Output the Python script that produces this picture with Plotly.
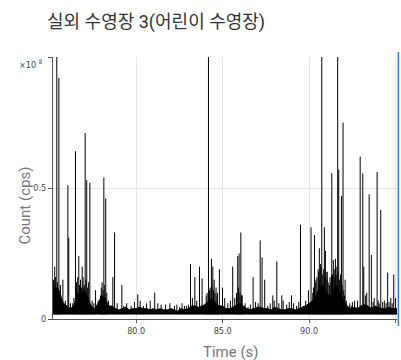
import plotly.graph_objects as go

# ---- data (Count in units of 1e8 cps, time in s) ----
title_text = "실외 수영장 3(어린이 수영장)"
x_title = "Time (s)"
y_title = "Count (cps)"
x_tick_vals = [80, 85, 90, 95]
x_tick_text = ["80.0", "85.0", "90.0", ""]
y_tick_vals = [0, 0.5, 1.0]
y_tick_text = ["0", "0.5", ""]

# upper envelope of the dense noise band, sampled every 0.2 s from 75.2 s
band_t0 = 75.2
band_dt = 0.2
band_hi = [0.11, 0.12, 0.09, 0.06, 0.05, 0.04, 0.05, 0.10, 0.09, 0.11,
           0.08, 0.05, 0.04, 0.06, 0.09, 0.08, 0.05, 0.05, 0.04, 0.035,
           0.04, 0.045, 0.035, 0.04, 0.04, 0.045, 0.04, 0.04, 0.035, 0.04,
           0.035, 0.04, 0.035, 0.035, 0.04, 0.035, 0.03, 0.04, 0.035, 0.04,
           0.05, 0.05, 0.045, 0.05, 0.055, 0.07, 0.08, 0.06, 0.05, 0.05,
           0.04, 0.04, 0.045, 0.055, 0.06, 0.05, 0.04, 0.035, 0.04, 0.045,
           0.045, 0.04, 0.04, 0.035, 0.045, 0.04, 0.035, 0.035, 0.04, 0.04,
           0.035, 0.04, 0.045, 0.05, 0.06, 0.07, 0.09, 0.12, 0.13, 0.10,
           0.09, 0.11, 0.13, 0.10, 0.07, 0.05, 0.04, 0.045, 0.04, 0.05,
           0.055, 0.05, 0.04, 0.05, 0.045, 0.04, 0.04, 0.045, 0.04, 0.04,
           0.04]
band_floor = 0.018

# individual spikes: time (s) and peak count (x1e8 cps)
spike_t = [75.29, 75.41, 75.53, 75.76, 76.05, 76.10, 76.33, 76.49, 76.68, 76.88,
           77.05, 77.14, 77.32, 77.65, 77.94, 78.13, 78.24, 78.65, 78.75,
           79.17, 79.28, 79.71, 80.09, 80.23, 80.42, 80.81, 81.07, 81.44, 82.21,
           82.50, 82.79, 83.02, 83.14,
           83.39, 83.66, 83.81, 83.99, 84.18, 84.24, 84.35, 84.43, 84.51, 84.62,
           84.81, 84.99, 85.12, 85.58, 85.87, 85.95, 86.05, 86.13, 86.47, 86.76,
           87.17, 87.28, 87.43, 87.61, 87.90, 87.98, 88.13, 88.42, 88.50, 88.98,
           89.27, 89.50, 89.67, 89.96, 90.11, 90.21, 90.31, 90.52, 90.59, 90.65,
           90.73, 90.79, 90.88, 90.94, 91.17, 91.29, 91.31, 91.40, 91.52, 91.65,
           91.71, 91.87, 91.96, 92.08, 92.23, 92.44, 92.63, 92.95, 93.10, 93.16,
           93.33, 93.47, 93.60, 93.76, 93.93, 93.99, 94.14, 94.35, 94.54, 94.72,
           94.89, 94.99]
spike_v = [0.20, 1.30, 0.92, 0.15, 0.51, 0.31, 0.06, 0.64, 0.24, 0.20,
           0.71, 0.53, 0.52, 0.11, 0.09, 0.54, 0.46, 0.16, 0.33,
           0.13, 0.05, 0.05, 0.094, 0.07, 0.05, 0.07, 0.10, 0.055, 0.05,
           0.045, 0.05, 0.055, 0.21,
           0.16, 0.20, 0.155, 0.06, 1.30, 0.11, 0.23, 0.20, 0.15, 0.12,
           0.19, 0.12, 0.08, 0.20, 0.24, 0.25, 0.33, 0.09, 0.045, 0.16,
           0.30, 0.235, 0.15, 0.05, 0.09, 0.07, 0.22, 0.09, 0.07, 0.09,
           0.05, 0.36, 0.05, 0.11, 0.35, 0.10, 0.32, 0.19, 0.27, 0.21,
           1.30, 0.12, 0.35, 0.26, 0.13, 0.17, 0.556, 0.225, 0.23, 1.30,
           0.57, 0.47, 0.75, 0.15, 0.04, 0.05, 0.07, 0.62, 0.556, 0.20,
           0.10, 0.476, 0.244, 0.08, 0.561, 0.07, 0.416, 0.07, 0.177, 0.08,
           0.17, 0.08]

# small ripple spikes riding on the band (ragged top of the noise)
ripple_t = [75.22, 75.26, 75.33, 75.37, 75.45, 75.49, 75.58, 75.62, 75.65, 75.9,
            76.2, 76.4, 76.55, 76.62, 76.72, 76.78, 76.84, 76.93, 76.95, 77.0,
            77.09, 77.19, 77.25, 77.45, 77.55, 77.8, 77.98, 78.03, 78.05, 78.09,
            78.18, 78.3, 78.4, 78.9, 79.45, 79.9, 80.6, 81.25, 81.7, 81.95,
            82.35, 82.65, 82.9, 83.25, 83.5, 84.05, 84.1, 84.28, 84.39, 84.47,
            84.56, 84.68, 84.7, 85.3, 85.45, 85.7, 85.8, 85.91, 86.0, 86.09,
            86.3, 86.6, 86.9, 87.05, 87.75, 88.25, 88.7, 88.85, 89.1, 89.4,
            89.8, 90.25, 90.35, 90.4, 90.45, 90.55, 90.62, 90.69, 90.76, 90.84,
            90.9, 90.98, 91.03, 91.05, 91.1, 91.21, 91.26, 91.35, 91.45, 91.49,
            91.56, 91.6, 91.68, 91.75, 91.82, 91.91, 92.0, 92.04, 92.15, 92.35,
            92.5, 92.8, 93.25, 93.7, 94.05, 94.25, 94.45, 94.62, 94.8]
ripple_v = [0.15, 0.13, 0.16, 0.12, 0.14, 0.12, 0.11, 0.13, 0.09, 0.07,
            0.06, 0.08, 0.14, 0.16, 0.13, 0.15, 0.12, 0.16, 0.12, 0.13,
            0.15, 0.12, 0.14, 0.07, 0.06, 0.07, 0.12, 0.14, 0.08, 0.11,
            0.13, 0.10, 0.07, 0.06, 0.06, 0.065, 0.06, 0.06, 0.055, 0.06,
            0.055, 0.06, 0.05, 0.08, 0.07, 0.09, 0.10, 0.12, 0.13, 0.11,
            0.10, 0.09, 0.10, 0.06, 0.07, 0.08, 0.10, 0.12, 0.10, 0.09,
            0.06, 0.055, 0.065, 0.06, 0.06, 0.06, 0.055, 0.065, 0.06, 0.065,
            0.07, 0.12, 0.14, 0.15, 0.16, 0.18, 0.15, 0.20, 0.17, 0.19,
            0.16, 0.18, 0.15, 0.18, 0.14, 0.16, 0.14, 0.17, 0.19, 0.16,
            0.20, 0.17, 0.18, 0.15, 0.17, 0.13, 0.11, 0.09, 0.07, 0.06,
            0.065, 0.07, 0.09, 0.065, 0.06, 0.065, 0.06, 0.065, 0.06]

# ---- build traces ----
band_t = [band_t0 + i * band_dt for i in range(len(band_hi))]

fig = go.Figure()
fig.add_trace(go.Scatter(x=band_t, y=[band_floor] * len(band_t), mode="lines",
                         line=dict(color="black", width=0.5), hoverinfo="skip",
                         showlegend=False))
fig.add_trace(go.Scatter(x=band_t, y=band_hi, mode="lines", fill="tonexty",
                         fillcolor="black", line=dict(color="black", width=0.8),
                         hoverinfo="skip", showlegend=False))


def segments(ts, vs):
    xs, ys = [], []
    for t, v in zip(ts, vs):
        xs += [t, t, None]
        ys += [band_floor, v, None]
    return xs, ys


rx, ry = segments(ripple_t, ripple_v)
fig.add_trace(go.Scatter(x=rx, y=ry, mode="lines", line=dict(color="black", width=1),
                         hoverinfo="skip", showlegend=False))
sx, sy = segments(spike_t, spike_v)
fig.add_trace(go.Scatter(x=sx, y=sy, mode="lines", line=dict(color="black", width=1),
                         hoverinfo="skip", showlegend=False))

tick_font = dict(family="Liberation Sans Narrow, DejaVu Sans Condensed, Roboto", size=9,
                 color="#444444")

fig.update_layout(
    width=401, height=360,
    margin=dict(l=53, r=4, t=57, b=41),
    paper_bgcolor="white", plot_bgcolor="white",
    title=dict(text=title_text, x=47 / 401, xanchor="left", xref="container",
               y=1 - 22 / 360, yanchor="middle", yref="container",
               font=dict(family="Roboto, Noto Sans CJK KR", size=18, color="#333333")),
    xaxis=dict(range=[75.19, 95.08], tickvals=x_tick_vals, ticktext=x_tick_text,
               showgrid=True, gridcolor="#e6e6e6", gridwidth=1,
               showline=True, linecolor="#555555", linewidth=1,
               ticks="outside", ticklen=3, tickcolor="#555555",
               tickfont=tick_font, zeroline=False),
    yaxis=dict(range=[0, 1.0], tickvals=y_tick_vals, ticktext=y_tick_text,
               showgrid=True, gridcolor="#e6e6e6", gridwidth=1,
               showline=True, linecolor="#555555", linewidth=1,
               ticks="outside", ticklen=4, tickcolor="#555555",
               tickfont=tick_font, zeroline=False),
    annotations=[
        dict(text="×10 <sup>8</sup>", xref="paper", yref="paper", x=-0.024, y=0.973,
             xanchor="right", yanchor="middle", showarrow=False,
             font=dict(family="Liberation Sans Narrow, DejaVu Sans Condensed, Roboto",
                       size=9, color="#444444")),
        dict(text=x_title, xref="paper", yref="paper", x=(230.5 - 53) / 344, y=-(351.7 - 319) / 262,
             xanchor="center", yanchor="middle", showarrow=False,
             font=dict(family="Roboto", size=15, color="#777777")),
        dict(text=y_title, xref="paper", yref="paper", x=-(53 - 25) / 344, y=(319 - 205.5) / 262,
             xanchor="center", yanchor="middle", textangle=-90, showarrow=False,
             font=dict(family="Roboto", size=15, color="#777777")),
    ],
    shapes=[dict(type="line", xref="paper", yref="paper", x0=1.004, x1=1.004,
                 y0=-0.027, y1=1.019, line=dict(color="#2b7de0", width=1.5))],
)

fig.write_html("out.html")
